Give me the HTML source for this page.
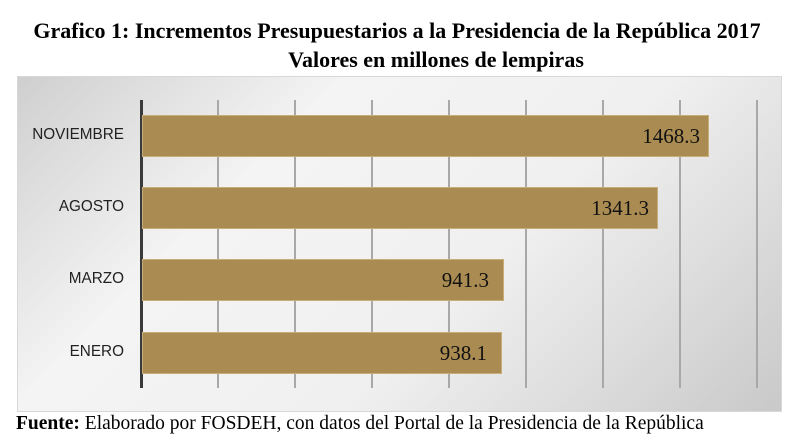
<!DOCTYPE html>
<html><head><style>
body{margin:0;width:800px;height:445px;background:#fff;position:relative;overflow:hidden;font-family:"Liberation Serif",serif}
.t{position:absolute;left:0;width:800px;text-align:center;font-weight:bold;font-size:22px;color:#000;white-space:nowrap}
#panel{position:absolute;left:17px;top:76px;width:765px;height:336px;background:linear-gradient(135deg,#cfcfcf 0%,#f4f4f4 30%,#f0f0f0 60%,#c9c9c9 100%);border:1px solid #d8d8d8;box-sizing:border-box}
.g{position:absolute;top:100px;height:288px;width:2px;background:#a8a8a8}
.bar{position:absolute;left:142px;height:42px;background:#aa8c52;border:1px solid #c9ad78;box-sizing:border-box}
.v{position:absolute;font-size:21px;color:#111;text-align:right}
.l{position:absolute;width:124px;left:0;text-align:right;font-family:"Liberation Sans",sans-serif;font-size:15.3px;color:#222}
.f{position:absolute;left:16px;top:413px;font-size:19.5px;color:#000;white-space:nowrap}
</style></head><body>
<div class="t" style="top:18px;left:-3px">Grafico 1: Incrementos Presupuestarios a la Presidencia de la República 2017</div>
<div class="t" style="top:47px;left:36px">Valores en millones de lempiras</div>
<div id="panel"></div>
<div class="g" style="left:217px"></div><div class="g" style="left:294px"></div><div class="g" style="left:371px"></div><div class="g" style="left:448px"></div><div class="g" style="left:525px"></div><div class="g" style="left:602px"></div><div class="g" style="left:679px"></div><div class="g" style="left:756px"></div>
<div style="position:absolute;left:140px;top:100px;width:3px;height:288px;background:#3a3a3a"></div>
<div class="bar" style="top:115px;width:567px"></div>
<div class="bar" style="top:187px;width:516px"></div>
<div class="bar" style="top:259px;width:362px"></div>
<div class="bar" style="top:332px;width:360px"></div>
<div class="v" style="top:124px;left:600px;width:100px">1468.3</div>
<div class="v" style="top:196px;left:549px;width:100px">1341.3</div>
<div class="v" style="top:268px;left:394px;width:95px">941.3</div>
<div class="v" style="top:341px;left:392px;width:95px">938.1</div>
<div class="l" style="top:126px">NOVIEMBRE</div>
<div class="l" style="top:198px">AGOSTO</div>
<div class="l" style="top:270px">MARZO</div>
<div class="l" style="top:343px">ENERO</div>
<div class="f"><b>Fuente:</b> Elaborado por FOSDEH, con datos del Portal de la Presidencia de la República</div>
</body></html>
